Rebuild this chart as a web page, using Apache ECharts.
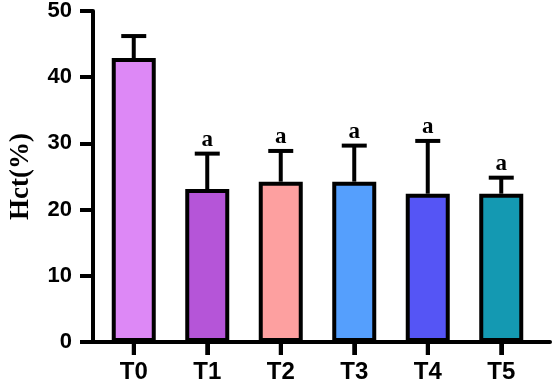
<!DOCTYPE html>
<html>
<head>
<meta charset="utf-8">
<script src="https://cdn.jsdelivr.net/npm/echarts@6/dist/echarts.min.js"></script>
<style>
  html, body { margin: 0; padding: 0; background: #fff; }
  #mainChart { width: 554px; height: 384px; }
</style>
</head>
<body>
<div id="mainChart"></div>
<script>
// data
var groups = ['T0', 'T1', 'T2', 'T3', 'T4', 'T5'];
var hctMean = [42.5, 22.9, 24.0, 24.0, 22.2, 22.2];
var hctUpper = [45.8, 28.2, 28.6, 29.4, 30.1, 24.6];
var sigMark = ['', 'a', 'a', 'a', 'a', 'a'];
var barColors = ['#DD88F6', '#B555D8', '#FDA0A0', '#559FFD', '#5555F5', '#1499B2'];
var yTicks = [0, 10, 20, 30, 40, 50];

var myChart = echarts.init(document.getElementById('mainChart'));

var barData = groups.map(function (g, i) {
    return {
        value: hctMean[i],
        itemStyle: { color: barColors[i] }
    };
});
var errData = groups.map(function (g, i) {
    return [i, hctMean[i], hctUpper[i]];
});

var blackLine = { color: '#000', width: 4 };

var option = {
    animation: false,
    // grid 0 carries the long axis frame, grid 1 the bars
    grid: [
        { left: 84, right: 4, top: 8, bottom: 42 },
        { left: 97, right: 16, top: 8, bottom: 42 }
    ],
    xAxis: [{
        gridIndex: 0,
        type: 'value',
        min: 0,
        max: 1,
        splitLine: { show: false },
        axisLine: { show: true, onZero: false, lineStyle: blackLine },
        axisTick: { show: false },
        axisLabel: { show: false }
    }, {
        gridIndex: 1,
        type: 'category',
        data: groups,
        axisLine: { show: false },
        axisTick: { show: true, alignWithLabel: true, length: 13, lineStyle: blackLine },
        axisLabel: {
            margin: 18,
            color: '#000',
            fontFamily: 'Liberation Sans',
            fontWeight: 'bold',
            fontSize: 24
        }
    }],
    yAxis: [{
        gridIndex: 0,
        type: 'value',
        min: yTicks[0],
        max: yTicks[yTicks.length - 1],
        interval: 10,
        name: 'Hct(%)',
        nameLocation: 'middle',
        nameGap: 58,
        nameTextStyle: { color: '#000', fontFamily: 'Liberation Serif', fontWeight: 'bold', fontSize: 27 },
        splitLine: { show: false },
        axisLine: { show: true, onZero: false, lineStyle: blackLine },
        axisTick: { show: true, length: 13, lineStyle: blackLine },
        axisLabel: {
            margin: 21,
            color: '#000',
            fontFamily: 'Liberation Sans',
            fontWeight: 'bold',
            fontSize: 22
        }
    }, {
        gridIndex: 1,
        type: 'value',
        min: yTicks[0],
        max: yTicks[yTicks.length - 1],
        show: false
    }],
    series: [{
        type: 'bar',
        xAxisIndex: 1,
        yAxisIndex: 1,
        data: barData,
        barWidth: 44,
        itemStyle: { borderColor: '#000', borderWidth: 4 },
        z: 2
    }, {
        type: 'custom',
        xAxisIndex: 1,
        yAxisIndex: 1,
        data: errData,
        zlevel: 1,
        clip: false,
        renderItem: function (params, api) {
            var x = api.value(0);
            var zero = api.coord([x, 0]);
            var base = api.coord([x, api.value(1)]);
            var top = api.coord([x, api.value(2)]);
            var half = 12.5;
            var children = [{
                // tick under each group
                type: 'rect',
                shape: { x: zero[0] - 2, y: zero[1], width: 4, height: 13 },
                style: { fill: '#000' }
            }, {
                type: 'line',
                shape: { x1: base[0], y1: base[1], x2: top[0], y2: top[1] },
                style: { stroke: '#000', lineWidth: 4 }
            }, {
                type: 'line',
                shape: { x1: top[0] - half, y1: top[1], x2: top[0] + half, y2: top[1] },
                style: { stroke: '#000', lineWidth: 4 }
            }];
            var mark = sigMark[params.dataIndex];
            if (mark) {
                children.push({
                    type: 'text',
                    x: top[0],
                    y: top[1] - 2,
                    style: {
                        text: mark,
                        fill: '#000',
                        font: 'bold 23px "Liberation Serif"',
                        textAlign: 'center',
                        textVerticalAlign: 'bottom'
                    }
                });
            }
            return { type: 'group', children: children };
        }
    }]
};

myChart.setOption(option);
</script>
</body>
</html>
